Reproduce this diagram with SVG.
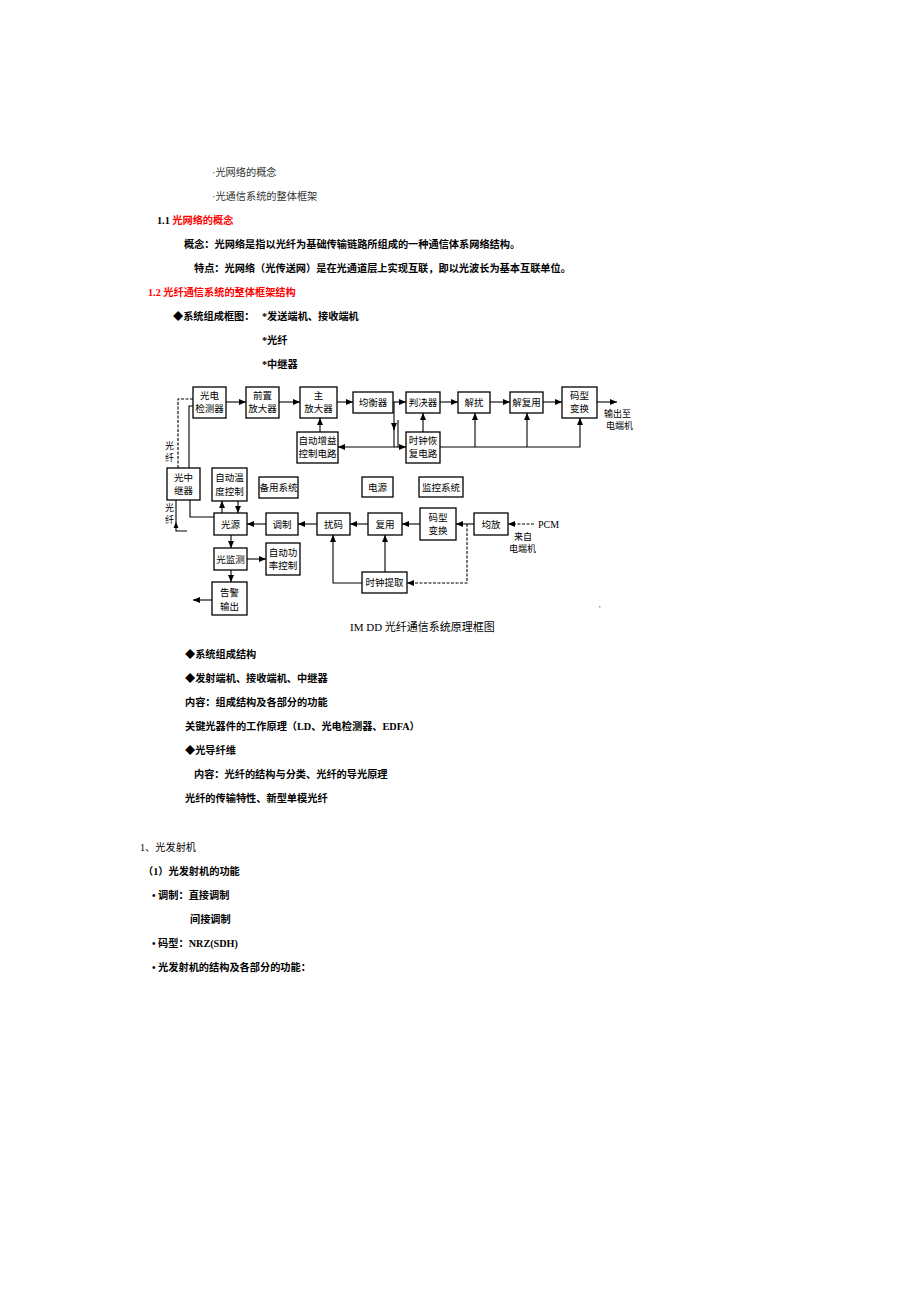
<svg xmlns="http://www.w3.org/2000/svg" width="920" height="1302" viewBox="0 0 920 1302">
<style>
.t{font-family:"Liberation Serif","Noto Sans CJK SC",serif;font-size:10.2px;fill:#000}
.b{font-weight:bold}
.r{fill:#f00}
.lt{fill:#333}
.box{fill:#fff;stroke:#000;stroke-width:1.3}
.bt{font-family:"Liberation Serif","Noto Sans CJK SC",serif;font-size:9.5px;fill:#000;text-anchor:middle}
.sm{font-family:"Liberation Serif","Noto Sans CJK SC",serif;font-size:9px;fill:#000}
.ln{stroke:#000;stroke-width:1.1;fill:none}
.ar{marker-end:url(#ah)}
.ds{stroke-dasharray:3 1.5}
</style>
<defs>
<marker id="ah" markerUnits="userSpaceOnUse" markerWidth="7" markerHeight="6" refX="7" refY="3" orient="auto">
<path d="M0,0 L7,3 L0,6 z" fill="#000"/>
</marker>
</defs>
<rect width="920" height="1302" fill="#fff"/>

<g id="text-top">
<text class="t lt" x="212" y="176">·光网络的概念</text>
<text class="t lt" x="212" y="200">·光通信系统的整体框架</text>
<text class="t b" x="157" y="224">1.1 <tspan class="r">光网络的概念</tspan></text>
<text class="t b" x="184" y="248">概念：光网络是指以光纤为基础传输链路所组成的一种通信体系网络结构。</text>
<text class="t b" x="194" y="272">特点：光网络（光传送网）是在光通道层上实现互联，即以光波长为基本互联单位。</text>
<text class="t b r" x="148" y="296">1.2 光纤通信系统的整体框架结构</text>
<text class="t b" x="173" y="320">◆系统组成框图：</text>
<text class="t b" x="262" y="320">*发送端机、接收端机</text>
<text class="t b" x="262" y="344">*光纤</text>
<text class="t b" x="262" y="368">*中继器</text>
</g>

<g id="connectors">
<line class="ln ar" x1="226" y1="402" x2="246" y2="402"/>
<line class="ln ar" x1="279" y1="402" x2="300" y2="402"/>
<line class="ln ar" x1="337" y1="402" x2="353" y2="402"/>
<line class="ln ar" x1="393" y1="402" x2="406" y2="402"/>
<line class="ln ar" x1="440" y1="402" x2="458" y2="402"/>
<line class="ln ar" x1="490" y1="402" x2="510" y2="402"/>
<line class="ln ar" x1="543" y1="402" x2="562" y2="402"/>
<line class="ln ar" x1="597" y1="402" x2="617" y2="402"/>
<line class="ln ar" x1="320" y1="432" x2="320" y2="418"/>
<line class="ln ar" x1="423" y1="432" x2="423" y2="413"/>
<polyline class="ln ar" points="440,447 580,447 580,418"/>
<line class="ln ar" x1="475" y1="447" x2="475" y2="413"/>
<line class="ln ar" x1="527" y1="447" x2="527" y2="413"/>
<line class="ln ar" x1="394" y1="402" x2="394" y2="430"/>
<line class="ln" x1="394" y1="428" x2="394" y2="447"/>
<line class="ln" x1="398" y1="420" x2="398" y2="447"/>
<line class="ln ar" x1="394" y1="447" x2="406" y2="447"/>
<line class="ln ar" x1="394" y1="447" x2="338" y2="447"/>
<polyline class="ln ds" points="193,399 178,399 178,468"/>
<polyline class="ln" points="193,406 189,406 189,468"/>
<polyline class="ln" points="214,517 190,517 190,500"/>
<polyline class="ln" points="187,531 176,531 176,500"/>
<path d="M176,522 L173.5,528 L178.5,528 z" fill="#000"/>
<line class="ln ar" x1="222" y1="513" x2="222" y2="501"/>
<line class="ln ar" x1="238" y1="501" x2="238" y2="513"/>
<line class="ln ar" x1="266" y1="524" x2="247" y2="524"/>
<line class="ln ar" x1="317" y1="524" x2="298" y2="524"/>
<line class="ln ar" x1="368" y1="524" x2="350" y2="524"/>
<line class="ln ar" x1="420" y1="524" x2="402" y2="524"/>
<line class="ln ar" x1="474" y1="524" x2="456" y2="524"/>
<line class="ln ar ds" x1="534" y1="524" x2="508" y2="524"/>
<polyline class="ln ar ds" points="467,524 467,583 407,583"/>
<line class="ln ar" x1="385" y1="572" x2="385" y2="535"/>
<polyline class="ln ar" points="362,583 333,583 333,535"/>
<line class="ln ar" x1="231" y1="535" x2="231" y2="548"/>
<line class="ln ar" x1="247" y1="559" x2="266" y2="559"/>
<line class="ln ar" x1="231" y1="570" x2="231" y2="582"/>
<line class="ln ar" x1="212" y1="600" x2="193" y2="600"/>
</g>

<g id="n-pd"><rect class="box" x="193" y="387" width="33" height="31"/><text class="bt" x="209.5" y="399">光电</text><text class="bt" x="209.5" y="412">检测器</text></g>
<g id="n-preamp"><rect class="box" x="246" y="387" width="33" height="31"/><text class="bt" x="262.5" y="399">前置</text><text class="bt" x="262.5" y="412">放大器</text></g>
<g id="n-mainamp"><rect class="box" x="300" y="387" width="37" height="31"/><text class="bt" x="318.5" y="399">主</text><text class="bt" x="318.5" y="412">放大器</text></g>
<g id="n-eq"><rect class="box" x="353" y="392" width="40" height="21"/><text class="bt" x="373" y="406">均衡器</text></g>
<g id="n-dec"><rect class="box" x="406" y="392" width="34" height="21"/><text class="bt" x="423" y="406">判决器</text></g>
<g id="n-descr"><rect class="box" x="458" y="392" width="32" height="21"/><text class="bt" x="474" y="406">解扰</text></g>
<g id="n-demux"><rect class="box" x="510" y="392" width="33" height="21"/><text class="bt" x="526.5" y="406">解复用</text></g>
<g id="n-code-rx"><rect class="box" x="562" y="387" width="35" height="31"/><text class="bt" x="579.5" y="399">码型</text><text class="bt" x="579.5" y="412">变换</text></g>
<g id="n-out"><text class="sm" x="604" y="417">输出至</text><text class="sm" x="606" y="429">电端机</text></g>
<g id="n-agc"><rect class="box" x="297" y="432" width="41" height="31"/><text class="bt" x="317.5" y="444">自动增益</text><text class="bt" x="317.5" y="457">控制电路</text></g>
<g id="n-cr"><rect class="box" x="406" y="432" width="34" height="31"/><text class="bt" x="423" y="444">时钟恢</text><text class="bt" x="423" y="457">复电路</text></g>
<g id="n-fiber-label"><text class="sm" x="165" y="449">光</text><text class="sm" x="165" y="461">纤</text><text class="sm" x="165" y="511">光</text><text class="sm" x="165" y="523">纤</text></g>
<g id="n-rep"><rect class="box" x="167" y="468" width="33" height="32"/><text class="bt" x="183.5" y="481">光中</text><text class="bt" x="183.5" y="494">继器</text></g>
<g id="n-atc"><rect class="box" x="212" y="468" width="35" height="33"/><text class="bt" x="229.5" y="481">自动温</text><text class="bt" x="229.5" y="495">度控制</text></g>
<g id="n-spare"><rect class="box" x="259" y="477" width="39" height="21"/><text class="bt" x="278.5" y="491">备用系统</text></g>
<g id="n-pwr"><rect class="box" x="362" y="477" width="31" height="20"/><text class="bt" x="377.5" y="490.5">电源</text></g>
<g id="n-mon"><rect class="box" x="419" y="477" width="44" height="20"/><text class="bt" x="441" y="490.5">监控系统</text></g>
<g id="n-src"><rect class="box" x="214" y="513" width="33" height="22"/><text class="bt" x="230.5" y="527.5">光源</text></g>
<g id="n-mod"><rect class="box" x="266" y="513" width="32" height="22"/><text class="bt" x="282" y="527.5">调制</text></g>
<g id="n-scr"><rect class="box" x="317" y="513" width="33" height="22"/><text class="bt" x="333.5" y="527.5">扰码</text></g>
<g id="n-mux"><rect class="box" x="368" y="513" width="34" height="22"/><text class="bt" x="385" y="527.5">复用</text></g>
<g id="n-code-tx"><rect class="box" x="420" y="508" width="36" height="32"/><text class="bt" x="438" y="521">码型</text><text class="bt" x="438" y="534">变换</text></g>
<g id="n-amp"><rect class="box" x="474" y="513" width="34" height="22"/><text class="bt" x="491" y="527.5">均放</text></g>
<g id="n-pcm"><text class="t" x="538" y="528" style="font-size:10px">PCM</text><text class="sm" x="514" y="540">来自</text><text class="sm" x="509" y="552">电端机</text></g>
<g id="n-om"><rect class="box" x="214" y="548" width="33" height="22"/><text class="bt" x="230.5" y="562.5">光监测</text></g>
<g id="n-apc"><rect class="box" x="266" y="543" width="34" height="32"/><text class="bt" x="283" y="556">自动功</text><text class="bt" x="283" y="569">率控制</text></g>
<g id="n-ce"><rect class="box" x="362" y="572" width="45" height="21"/><text class="bt" x="384.5" y="586">时钟提取</text></g>
<g id="n-alarm"><rect class="box" x="212" y="582" width="35" height="33"/><text class="bt" x="229.5" y="596">告警</text><text class="bt" x="229.5" y="610">输出</text></g>
<rect x="599" y="606" width="1.5" height="1.5" fill="#999"/>
<g id="caption"><text class="t" x="350" y="631" style="font-size:11px">IM DD 光纤通信系统原理框图</text></g>

<g id="text-bottom">
<text class="t b" x="185" y="658">◆系统组成结构</text>
<text class="t b" x="185" y="682">◆发射端机、接收端机、中继器</text>
<text class="t b" x="185" y="706">内容：组成结构及各部分的功能</text>
<text class="t b" x="185" y="730">关键光器件的工作原理（LD、光电检测器、EDFA）</text>
<text class="t b" x="185" y="754">◆光导纤维</text>
<text class="t b" x="194" y="778">内容：光纤的结构与分类、光纤的导光原理</text>
<text class="t b" x="185" y="802">光纤的传输特性、新型单模光纤</text>
<text class="t" x="140" y="851">1、光发射机</text>
<text class="t b" x="143" y="875">（1）光发射机的功能</text>
<text class="t b" x="152" y="899">• 调制：直接调制</text>
<text class="t b" x="190" y="923">间接调制</text>
<text class="t b" x="152" y="947">• 码型：NRZ(SDH)</text>
<text class="t b" x="152" y="971">• 光发射机的结构及各部分的功能：</text>
</g>
</svg>
